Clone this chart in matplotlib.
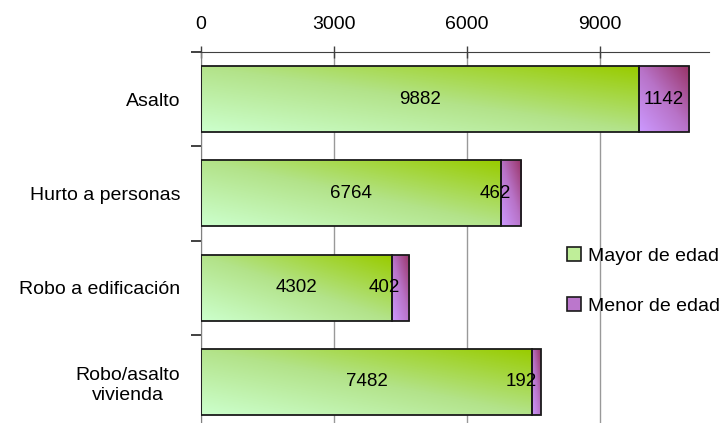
import numpy as np
import matplotlib
matplotlib.use('Agg')
import matplotlib.pyplot as plt
from matplotlib.colors import LinearSegmentedColormap
from matplotlib.patches import Patch

categories = ['Asalto', 'Hurto a personas', 'Robo a edificación',
              'Robo/asalto\nvivienda']
mayor = [9882, 6764, 4302, 7482]
menor = [1142, 462, 402, 192]
series_names = ['Mayor de edad', 'Menor de edad']
xticks = [0, 3000, 6000, 9000]

plt.rcParams['font.family'] = ['Liberation Sans', 'DejaVu Sans']

green_cmap = LinearSegmentedColormap.from_list('g', ['#ccffcc', '#b3e38a', '#99cc00'])
purple_cmap = LinearSegmentedColormap.from_list('p', ['#cc99ff', '#b873c8', '#993366'])


def gradient_fill(ax, x0, width, yc, height, cmap):
    # diagonal gradient: light bottom-left -> dark top-right
    u = np.linspace(0, 1, 120)
    v = np.linspace(0, 1, 40)
    U, V = np.meshgrid(u, v)
    t = 0.5 * U + 0.5 * V
    ax.imshow(t, cmap=cmap, origin='lower', aspect='auto', interpolation='bilinear',
              extent=(x0, x0 + width, yc + height / 2, yc - height / 2), zorder=2)


fig = plt.figure(figsize=(7.25, 4.23), dpi=100)
ax = fig.add_axes([0.2772, -0.0145, 0.7007, 0.8915])

y = np.arange(len(categories))
bar_h = 0.70
fs = 14

for i in range(len(categories)):
    gradient_fill(ax, 0, mayor[i], y[i], bar_h, green_cmap)
    gradient_fill(ax, mayor[i], menor[i], y[i], bar_h, purple_cmap)

ax.barh(y, mayor, height=bar_h, fill=False, edgecolor='#1a1a1a', linewidth=1.3, zorder=3)
ax.barh(y, menor, left=mayor, height=bar_h, fill=False, edgecolor='#1a1a1a',
        linewidth=1.3, zorder=3)

# value labels
for i in range(len(categories)):
    ax.text(mayor[i] / 2, y[i], str(mayor[i]), ha='center', va='center',
            fontsize=fs - 0.5, zorder=4)
    cx = mayor[i] + menor[i] / 2
    if menor[i] < 1000:
        ax.text(cx, y[i], str(menor[i]), ha='right', va='center', fontsize=fs - 0.5, zorder=4)
    else:
        ax.text(cx, y[i], str(menor[i]), ha='center', va='center', fontsize=fs - 0.5, zorder=4)

ax.set_xlim(0, 11470)
ax.set_ylim(len(categories) - 0.5, -0.5)

ax.xaxis.tick_top()
ax.set_xticks(xticks)
ax.set_xticklabels([str(t) for t in xticks])
ax.tick_params(axis='x', direction='inout', length=9, width=1, color='#404040',
               labelsize=fs, pad=9)
ax.grid(axis='x', color='#999999', linewidth=1, zorder=0)
ax.set_axisbelow(True)

ax.set_yticks(y)
ax.set_yticklabels(categories, multialignment='center')
ax.set_yticks(np.arange(-0.5, len(categories), 1), minor=True)
ax.tick_params(axis='y', which='major', length=0, labelsize=fs, pad=15)
ax.tick_params(axis='y', which='minor', length=7, width=1.2, color='#202020', direction='out')

ax.spines['right'].set_visible(False)
ax.spines['bottom'].set_visible(False)
ax.spines['top'].set_color('#404040')
ax.spines['left'].set_color('#808080')

handles = [Patch(facecolor='#bfee99', edgecolor='#1a1a1a', linewidth=1.2),
           Patch(facecolor='#bb77cc', edgecolor='#1a1a1a', linewidth=1.2)]
fig.legend(handles, series_names, loc='upper left', bbox_to_anchor=(0.782, 0.415),
           frameon=False, fontsize=fs, handlelength=0.7, handleheight=0.7,
           handletextpad=0.4, labelspacing=1.65, borderaxespad=0, borderpad=0)

fig.savefig('out.png', dpi=100)
